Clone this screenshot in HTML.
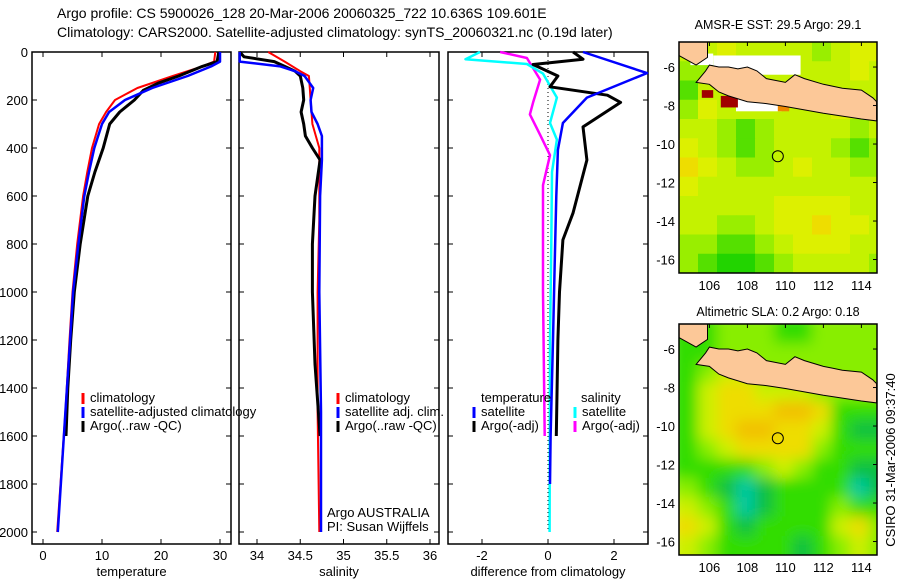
<!DOCTYPE html>
<html><head><meta charset="utf-8"><style>
html,body{margin:0;padding:0;background:#fff;}
svg{display:block;font-family:"Liberation Sans",sans-serif;}
</style></head><body>
<svg id="chart" width="900" height="580" viewBox="0 0 900 580" xmlns="http://www.w3.org/2000/svg">
<text x="57" y="18" font-size="14">Argo profile: CS 5900026_128 20-Mar-2006 20060325_722 10.636S 109.601E</text>
<text x="57" y="37" font-size="14">Climatology: CARS2000. Satellite-adjusted climatology: synTS_20060321.nc (0.19d later)</text>
<text x="778" y="29" font-size="12.5" text-anchor="middle">AMSR-E SST: 29.5 Argo: 29.1</text>
<text x="778" y="316" font-size="12.5" text-anchor="middle">Altimetric SLA: 0.2 Argo: 0.18</text>
<text transform="translate(895,460) rotate(-90)" font-size="13" text-anchor="middle">CSIRO 31-Mar-2006 09:37:40</text>
</svg>
<script>
// ---- profile data ----
const depthTicks=[0,200,400,600,800,1000,1200,1400,1600,1800,2000];
const tempTicks=[0,10,20,30];
const salTicks=[34,34.5,35,35.5,36];
const salTickLabels=["34","34.5","35","35.5","36"];
const diffTicks=[-2,0,2];

const tClimDepth=[0,40,60,100,150,200,250,300,400,500,600,800,1000,1200,1500,2000];
const tClimVal=[29.2,29,27,22,16,12.2,10.7,9.5,8.3,7.5,6.8,5.8,5,4.5,3.8,2.4];
const tSatDepth=[0,40,60,100,150,200,250,300,400,500,600,800,1000,1200,1500,2000];
const tSatVal=[30,30,28.5,24.5,18.5,13.9,11.2,10,8.7,7.8,7,6,5.1,4.6,3.8,2.5];
const tArgoDepth=[0,40,60,100,130,160,200,250,300,400,500,600,800,1000,1200,1400,1600];
const tArgoVal=[29.8,29.5,27,23,19.5,17,15.5,13,11.3,10.2,8.8,7.6,6.3,5.3,4.7,4.2,3.9];

const sClimDepth=[0,40,80,100,150,200,300,400,500,700,1000,1500,2000];
const sClimVal=[34.13,34.32,34.5,34.6,34.61,34.62,34.64,34.72,34.72,34.72,34.7,34.7,34.72];
const sSatDepth=[0,40,60,80,100,150,200,250,300,350,450,600,1000,1500,2000];
const sSatVal=[33.8,33.8,34.27,34.44,34.55,34.65,34.62,34.63,34.7,34.75,34.75,34.73,34.72,34.74,34.74];
const sArgoDepth=[0,20,40,60,80,100,150,200,250,300,350,400,450,600,800,1000,1300,1600];
const sArgoVal=[33.8,33.85,34.2,34.32,34.44,34.5,34.53,34.54,34.51,34.54,34.56,34.64,34.73,34.67,34.64,34.64,34.67,34.73];

const dTSatDepth=[0,88,190,296,408,600,900,1200,1600,1800];
const dTSatVal=[1.06,3.0,1.18,0.45,0.3,0.25,0.2,0.15,0.08,0.06];
const dTArgoDepth=[0,30,52,100,145,180,210,312,450,670,783,1000,1200,1600];
const dTArgoVal=[0.76,1.06,-0.45,0.3,0.06,1.8,2.2,1.06,1.18,0.76,0.45,0.35,0.3,0.25];
const dSSatDepth=[0,30,50,90,190,296,365,500,800,1200,2000];
const dSSatVal=[-2.06,-2.5,-0.64,-0.15,0.27,0.06,0.27,0.12,0.1,0.06,0.05];
const dSArgoDepth=[0,25,115,210,260,345,430,555,1000,1600];
const dSArgoVal=[-1.45,-0.64,-0.24,-0.45,-0.55,-0.24,0.06,-0.15,-0.15,-0.1];

// ---- map data (1-degree cells, rows north->south, cols west->east) ----
const mapLonStart=104.4, mapLatTop=-4.7;
const sstGrid=[
[5,5,6,5,5,5,5,4,5,6,6],
[4,4,5,5,5,5,5,5,5,6,5],
[3,5,5,5,5,5,5,5,5,5,5],
[4,6,5,5,5,5,5,5,6,5,5],
[5,5,4,3,4,5,5,5,5,4,5],
[6,5,4,3,4,5,5,5,4,3,4],
[7,6,5,4,4,5,6,5,5,4,4],
[6,5,5,5,5,5,5,5,5,5,5],
[5,5,5,5,5,6,6,6,6,5,5],
[5,5,4,4,5,6,6,7,6,6,5],
[4,4,3,3,4,5,6,6,6,5,5],
[4,3,2,2,3,4,5,5,5,5,4]];
const slaGrid=[
[3,3,4,4,4,3,3,4,4,4,4],
[3,3,4,4,4,4,4,4,4,4,4],
[3,4,5,5,4,4,4,4,4,4,4],
[3,5,6,6,5,5,5,4,4,4,4],
[3,5,6,6,6,7,7,6,3,3,3],
[3,5,6,7,7,6,6,5,3,2,2],
[3,4,5,6,6,6,6,4,3,3,3],
[3,3,3,3,4,5,4,3,3,2,2],
[4,3,2,1,2,3,3,3,3,1,2],
[5,4,3,1,2,3,3,3,4,3,3],
[6,5,3,2,3,3,3,3,5,6,4],
[5,4,3,3,3,3,2,3,4,5,4]];
const mapLonTicks=[106,108,110,112,114];
const mapLatTicks=[-6,-8,-10,-12,-14,-16];
const javaLon=[105.3,105.8,106,106.5,107,107.5,108,108.5,109,110,110.5,111,112,112.5,113,114,114.6,114.8,114.8,114,112,110,109,108,107,106.5,106,105.3];
const javaLat=[-6.8,-6.2,-5.9,-6.0,-6.0,-6.1,-6.0,-6.2,-6.6,-6.8,-6.4,-6.6,-6.9,-7.0,-7.1,-7.2,-7.6,-7.8,-8.8,-8.7,-8.4,-8.05,-7.9,-7.8,-7.5,-7.3,-6.9,-6.8];
const sumLon=[104.4,105.9,105.9,105.3,104.4];
const sumLat=[-4.7,-4.7,-5.5,-5.9,-5.4];
const floatLon=109.601, floatLat=-10.636;

// ---- helpers ----
const NS="http://www.w3.org/2000/svg";
const svg=document.getElementById('chart');
function mk(tag,attrs,parent){const e=document.createElementNS(NS,tag);for(const k in attrs)e.setAttribute(k,attrs[k]);(parent||svg).appendChild(e);return e;}
const yOf=d=>52+d*0.24;
const TOP=52,BOT=544;

function drawPanel(name,left,right,xf,ticks,labels,title,yLabels){
  const g=mk('g',{});
  
  
  const box=mk('rect',{x:left,y:TOP,width:right-left,height:BOT-TOP,fill:'none',stroke:'#000','stroke-width':1.5},g);
  
  
  depthTicks.forEach(d=>{
    const y=yOf(d);
    const t1=mk('line',{x1:left,x2:left+5,y1:y,y2:y,stroke:'#000'},g);
    
    
    const t2=mk('line',{x1:right-5,x2:right,y1:y,y2:y,stroke:'#000'},g);
    
    
    if(yLabels){
      const tl=mk('text',{x:28,y:y+5,'font-size':13,'text-anchor':'end'},g);
      tl.textContent=String(d);
      
      
    }
  });
  ticks.forEach((v,i)=>{
    const x=xf(v);
    const a=mk('line',{x1:x,x2:x,y1:BOT-5,y2:BOT,stroke:'#000'},g);
    
    
    const b=mk('line',{x1:x,x2:x,y1:TOP,y2:TOP+5,stroke:'#000'},g);
    
    
    const tl=mk('text',{x:x,y:560,'font-size':13,'text-anchor':'middle'},g);
    tl.textContent=labels[i];
    
    
  });
  const tt=mk('text',{x:(left+right)/2,y:576,'font-size':13,'text-anchor':'middle'},g);
  tt.textContent=title;
  
  
  return g;
}
function profile(g,xf,depths,vals,color,w,name){
  const pts=depths.map((d,i)=>xf(vals[i]).toFixed(1)+','+yOf(d).toFixed(1)).join(' ');
  const p=mk('polyline',{points:pts,fill:'none',stroke:color,'stroke-width':w,'stroke-linejoin':'round'},g);
  
  
}
function legend(g,x,y,color,label,name){
  const m=mk('line',{x1:x,x2:x,y1:y-9,y2:y+2,stroke:color,'stroke-width':3},g);
  
  
  const t=mk('text',{x:x+7,y:y,'font-size':13},g);
  t.textContent=label;
  
  
}

// Panel 1 temperature
const xT=v=>43+v*5.9;
const g1=drawPanel('temperature',32,231,xT,tempTicks,tempTicks.map(String),'temperature',true);
profile(g1,xT,tClimDepth,tClimVal,'#f00',2,'temperature-climatology-line');
profile(g1,xT,tArgoDepth,tArgoVal,'#000',3,'temperature-argo-line');
profile(g1,xT,tSatDepth,tSatVal,'#00f',2.5,'temperature-satellite-line');
legend(g1,83,402,'#f00','climatology','legend-climatology');
legend(g1,83,416,'#00f','satellite-adjusted climatology','legend-satellite');
legend(g1,83,430,'#000','Argo(..raw -QC)','legend-argo');

// Panel 2 salinity
const xS=v=>257+(v-34)*86.5;
const g2=drawPanel('salinity',239,439,xS,salTicks,salTickLabels,'salinity',false);
profile(g2,xS,sClimDepth,sClimVal,'#f00',2,'salinity-climatology-line');
profile(g2,xS,sArgoDepth,sArgoVal,'#000',3,'salinity-argo-line');
profile(g2,xS,sSatDepth,sSatVal,'#00f',2.5,'salinity-satellite-line');
legend(g2,338,402,'#f00','climatology','legend-sal-climatology');
legend(g2,338,416,'#00f','satellite adj. clim.','legend-sal-satellite');
legend(g2,338,430,'#000','Argo(..raw -QC)','legend-sal-argo');
const ca=mk('text',{x:327,y:517,'font-size':13},g2);ca.textContent='Argo AUSTRALIA';


const cp=mk('text',{x:327,y:531,'font-size':13},g2);cp.textContent='PI: Susan Wijffels';



// Panel 3 differences
const xD=v=>548+v*33;
const g3=drawPanel('difference',448,648,xD,diffTicks,diffTicks.map(String),'difference from climatology',false);
const zl=mk('line',{x1:xD(0),x2:xD(0),y1:TOP,y2:yOf(2000),stroke:'#000','stroke-dasharray':'1,3'},g3);


profile(g3,xD,dSArgoDepth,dSArgoVal,'#f0f',2.5,'salinity-argo-diff-line');
profile(g3,xD,dSSatDepth,dSSatVal,'#0ff',2.5,'salinity-satellite-diff-line');
profile(g3,xD,dTArgoDepth,dTArgoVal,'#000',3,'temperature-argo-diff-line');
profile(g3,xD,dTSatDepth,dTSatVal,'#00f',2.5,'temperature-satellite-diff-line');
const lt=mk('text',{x:481,y:402,'font-size':13},g3);lt.textContent='temperature';


const ls=mk('text',{x:581,y:402,'font-size':13},g3);ls.textContent='salinity';


legend(g3,474,416,'#00f','satellite','legend-diff-t-satellite');
legend(g3,474,430,'#000','Argo(-adj)','legend-diff-t-argo');
legend(g3,575,416,'#0ff','satellite','legend-diff-s-satellite');
legend(g3,575,430,'#f0f','Argo(-adj)','legend-diff-s-argo');

// ---- maps ----
function sstColor(v){return ['#00c890','#00c890','#22d400','#55e000','#99ee00','#c4f200','#ddf000','#eedd00','#ff9900','#dd5500','#aa0000'][v];}
function slaColor(v){return ['#00c8a0','#00c8a0','#11c040','#33dd00','#88ee00','#ccf000','#eedd00','#f2c000'][v];}
function drawMap(name,top,grid,colorFn,blur,extra){
  const left=679,right=877,bottom=top+231;
  const mx=lon=>left+(lon-mapLonStart)*19;
  const my=lat=>top+(mapLatTop-lat)*19.25;
  const g=mk('g',{});
  
  
  const clipId=name+'-clip';
  const cp=mk('clipPath',{id:clipId},g);
  mk('rect',{x:left,y:top,width:right-left,height:bottom-top},cp);
  const inner=mk('g',{'clip-path':'url(#'+clipId+')'},g);
  const cells=mk('g',blur?{filter:'url(#'+name+'-blur)'}:{},inner);
  if(blur){const f=mk('filter',{id:name+'-blur',x:'-10%',y:'-10%',width:'120%',height:'120%'},g);mk('feGaussianBlur',{stdDeviation:7},f);}
  grid.forEach((row,r)=>row.forEach((v,c)=>{
    const x0=mx(mapLonStart+c),y0=my(mapLatTop-r);
    const cell=mk('rect',{x:x0-(blur?10:0),y:y0-(blur?10:0),width:19+(blur&&c==row.length-1?20:0)+(blur&&c==0?10:0)+0.5,height:19.25+(blur&&r==grid.length-1?20:0)+(blur&&r==0?10:0)+0.5,fill:colorFn(v)},cells);
    if(blur&&c>0)cell.setAttribute('x',x0);
    if(blur&&r>0)cell.setAttribute('y',y0);
    
    
  }));
  if(extra)extra(inner,mx,my);
  const pj=javaLon.map((l,i)=>mx(l).toFixed(1)+','+my(javaLat[i]).toFixed(1)).join(' ');
  const java=mk('polygon',{points:pj,fill:'#fcc898',stroke:'#000','stroke-width':1},inner);
  
  
  const ps=sumLon.map((l,i)=>mx(l).toFixed(1)+','+my(sumLat[i]).toFixed(1)).join(' ');
  const sum=mk('polygon',{points:ps,fill:'#fcc898',stroke:'#000','stroke-width':1},inner);
  
  
  const circ=mk('circle',{cx:mx(floatLon),cy:my(floatLat),r:5.5,fill:'none',stroke:'#000','stroke-width':1},g);
  
  
  const fr=mk('rect',{x:left,y:top,width:right-left,height:bottom-top,fill:'none',stroke:'#000','stroke-width':1.5},g);
  
  
  mapLonTicks.forEach(l=>{
    const x=mx(l);
    const a=mk('line',{x1:x,x2:x,y1:top,y2:top+4,stroke:'#000'},g);
    
    
    const t=mk('text',{x:x,y:bottom+17,'font-size':13,'text-anchor':'middle'},g);
    t.textContent=String(l);
    
    
  });
  mapLatTicks.forEach(l=>{
    const y=my(l);
    const a=mk('line',{x1:right-4,x2:right,y1:y,y2:y,stroke:'#000'},g);
    
    
    const t=mk('text',{x:left-4,y:y+5,'font-size':13,'text-anchor':'end'},g);
    t.textContent=String(l);
    
    
  });
  return {g:inner,mx,my};
}
drawMap('sst-map',42,sstGrid,sstColor,false,function(g,mx,my){
  const nd1=mk('rect',{x:mx(106.2),y:my(-5.4),width:mx(110.8)-mx(106.2),height:my(-6.4)-my(-5.4),fill:'#fff'},g);
  
  
  const nd0=mk('rect',{x:mx(105.0),y:my(-5.3),width:mx(106.2)-mx(105.0),height:my(-5.9)-my(-5.3),fill:'#fff'},g);
  
  
  const nd2=mk('rect',{x:mx(107.4),y:my(-7.6),width:mx(109.8)-mx(107.4),height:my(-8.3)-my(-7.6),fill:'#fff'},g);
  
  
  const hc=mk('rect',{x:mx(106.6),y:my(-7.5),width:mx(107.5)-mx(106.6),height:my(-8.1)-my(-7.5),fill:'#a00000'},g);
  
  
  const hc2=mk('rect',{x:mx(105.6),y:my(-7.2),width:mx(106.2)-mx(105.6),height:my(-7.6)-my(-7.2),fill:'#a00000'},g);
  
  
  const oc=mk('rect',{x:mx(109.6),y:my(-7.9),width:mx(110.2)-mx(109.6),height:my(-8.3)-my(-7.9),fill:'#ee8800'},g);
  
  
});
drawMap('sla-map',324,slaGrid,slaColor,true,null);
</script>
</body></html>
